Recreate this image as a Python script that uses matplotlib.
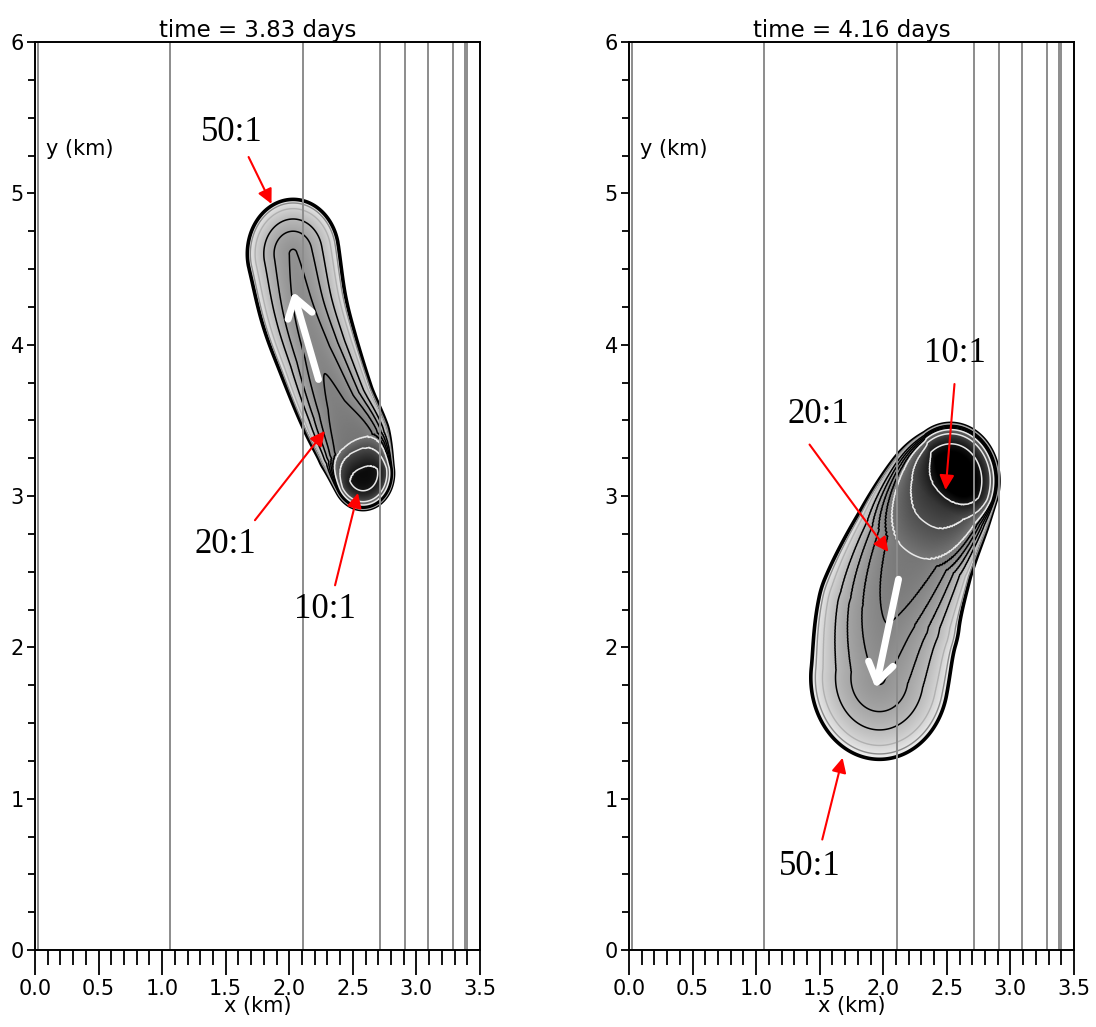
import numpy as np
import matplotlib
matplotlib.use("Agg")
import matplotlib.pyplot as plt
from matplotlib.colors import LogNorm
from matplotlib.ticker import MultipleLocator, FormatStrFormatter


# grey x-positions of the depth contours (km)
DEPTH_LINES_X = [0.02, 1.06, 2.11, 2.71, 2.91, 3.09, 3.29, 3.38, 3.40]

# contour levels (percent effluent) and their line colours
LEVELS = [2.0, 2.2, 2.5, 3.0, 3.5, 4.0, 4.5, 5.0, 6.7, 10.0]
LEVEL_COLORS = ["black", "#8a8a8a", "#b0b0b0", "black", "black", "black", "black",
                "#e8e8e8", "#e8e8e8", "#e8e8e8"]
LEVEL_WIDTHS = [2.6, 1.0, 1.0, 1.1, 1.1, 1.1, 1.1, 1.1, 1.1, 1.1]

# plume skeleton at 3.83 days: centre line, half width, peak value, edge sharpness
LEFT_PATH_X = [2.03, 2.11, 2.22, 2.37, 2.50, 2.58]
LEFT_PATH_Y = [4.60, 4.25, 3.95, 3.60, 3.36, 3.15]
LEFT_HALF_W = [0.36, 0.34, 0.32, 0.30, 0.29, 0.24]
LEFT_PEAK = [4.05, 4.25, 4.40, 4.65, 5.00, 11.0]
LEFT_EDGE = [1.5, 1.5, 1.6, 2.0, 3.0, 3.0]

# plume skeleton at 4.16 days
RIGHT_PATH_X = [1.97, 2.04, 2.22, 2.41, 2.53]
RIGHT_PATH_Y = [1.80, 2.20, 2.62, 2.95, 3.10]
RIGHT_HALF_W = [0.54, 0.56, 0.49, 0.44, 0.38]
RIGHT_PEAK = [4.05, 4.55, 5.00, 8.00, 14.0]
RIGHT_EDGE = [1.5, 1.6, 2.2, 2.5, 2.5]

TITLES = ["time = 3.83 days", "time = 4.16 days"]

# (label, text x, text y, arrow tail, arrow head)
LEFT_NOTES = [
    ("50:1", 1.55, 5.40, (1.68, 5.24), (1.86, 4.93)),
    ("20:1", 1.50, 2.68, (1.73, 2.84), (2.28, 3.43)),
    ("10:1", 2.28, 2.25, (2.36, 2.41), (2.54, 3.02)),
]
RIGHT_NOTES = [
    ("10:1", 2.56, 3.94, (2.56, 3.74), (2.49, 3.04)),
    ("20:1", 1.49, 3.54, (1.42, 3.34), (2.04, 2.63)),
    ("50:1", 1.42, 0.55, (1.52, 0.73), (1.68, 1.27)),
]
LEFT_FLOW = ((2.23, 3.77), (2.03, 4.35))
RIGHT_FLOW = ((2.12, 2.45), (1.94, 1.73))

BASE = LEVELS[0]


def smooth_path(px, py, extras, n=24):
    # Catmull-Rom curve through the skeleton points
    P = np.column_stack([px, py]).astype(float)
    pts = np.vstack([2 * P[0] - P[1], P, 2 * P[-1] - P[-2]])
    t = np.linspace(0, 1, n, endpoint=False)[:, None]
    curve = []
    for i in range(len(P) - 1):
        p0, p1, p2, p3 = pts[i], pts[i + 1], pts[i + 2], pts[i + 3]
        curve.append(0.5 * (2 * p1 + (p2 - p0) * t
                            + (2 * p0 - 5 * p1 + 4 * p2 - p3) * t ** 2
                            + (3 * p1 - p0 - 3 * p2 + p3) * t ** 3))
    curve.append(P[-1][None, :])
    curve = np.vstack(curve)
    idx = np.linspace(0, len(P) - 1, len(curve))
    vals = [np.interp(idx, np.arange(len(P)), v) for v in extras]
    return curve[:, 0], curve[:, 1], vals


def plume_field(X, Y, px, py, pw, pc, pp):
    cx, cy, (w_, c_, p_) = smooth_path(px, py, (pw, pc, pp))
    u_best = np.full(X.shape, np.inf)
    c_best = np.zeros(X.shape)
    p_best = np.ones(X.shape)
    for i in range(len(cx) - 1):
        dx = cx[i + 1] - cx[i]
        dy = cy[i + 1] - cy[i]
        s = ((X - cx[i]) * dx + (Y - cy[i]) * dy) / (dx * dx + dy * dy)
        s = np.clip(s, 0, 1)
        d = np.hypot(X - (cx[i] + s * dx), Y - (cy[i] + s * dy))
        u = d / (w_[i] + s * (w_[i + 1] - w_[i]))
        better = u < u_best
        u_best = np.where(better, u, u_best)
        c_best = np.where(better, c_[i] + s * (c_[i + 1] - c_[i]), c_best)
        p_best = np.where(better, p_[i] + s * (p_[i + 1] - p_[i]), p_best)
    return BASE + (c_best - BASE) * (1 - u_best ** p_best)


def draw_panel(ax, title, path, notes, flow):
    px, py, pw = path[0], path[1], path[2]
    pad = max(pw) + 0.15
    x0, x1 = min(px) - pad, max(px) + pad
    y0, y1 = min(py) - pad, max(py) + pad
    xs = np.arange(x0, x1, 0.004)
    ys = np.arange(y0, y1, 0.004)
    X, Y = np.meshgrid(xs, ys)
    F = plume_field(X, Y, *path)

    shade = np.ma.masked_less(F, BASE)
    ax.imshow(shade, extent=[xs[0], xs[-1], ys[0], ys[-1]], origin="lower", aspect="auto",
              cmap="gray_r", norm=LogNorm(vmin=1.8, vmax=12), interpolation="bilinear",
              zorder=1)
    ax.contour(X, Y, F, levels=LEVELS, colors=LEVEL_COLORS, linewidths=LEVEL_WIDTHS,
               zorder=2)

    for x in DEPTH_LINES_X:
        ax.axvline(x, color="#8c8c8c", lw=1.4, zorder=3)

    for label, tx, ty, tail, head in notes:
        ax.text(tx, ty, label, ha="center", va="center", fontsize=25,
                family="Liberation Serif", zorder=5)
        ax.annotate("", xy=head, xytext=tail,
                    arrowprops=dict(arrowstyle="-|>", color="red", lw=1.5,
                                    mutation_scale=22, shrinkA=0, shrinkB=0),
                    zorder=5)

    ax.annotate("", xy=flow[1], xytext=flow[0],
                arrowprops=dict(arrowstyle="->,head_length=0.45,head_width=0.3",
                                color="white", lw=5, mutation_scale=30,
                                shrinkA=0, shrinkB=0),
                zorder=4)

    ax.set_xlim(0, 3.5)
    ax.set_ylim(0, 6)
    ax.xaxis.set_major_locator(MultipleLocator(0.5))
    ax.xaxis.set_minor_locator(MultipleLocator(0.1))
    ax.xaxis.set_major_formatter(FormatStrFormatter("%.1f"))
    ax.yaxis.set_major_locator(MultipleLocator(1))
    ax.yaxis.set_minor_locator(MultipleLocator(0.25))
    ax.tick_params(axis="x", which="major", length=18, width=1.3, labelsize=15, pad=3)
    ax.tick_params(axis="x", which="minor", length=11, width=1.3)
    ax.tick_params(axis="y", which="major", length=6, width=1.3, labelsize=15, pad=2)
    ax.tick_params(axis="y", which="minor", length=5, width=1.3)
    for sp in ax.spines.values():
        sp.set_linewidth(1.4)
        sp.set_zorder(6)

    ax.set_xlabel("x (km)", fontsize=15, labelpad=-2)
    ax.text(0.09, 5.29, "y (km)", ha="left", va="center", fontsize=15, zorder=5)
    ax.set_title(title, fontsize=16.5, pad=3)


fig = plt.figure(figsize=(10.96, 10.27), dpi=100)
ax1 = fig.add_axes([35 / 1096, 77 / 1027, 445 / 1096, 908 / 1027])
ax2 = fig.add_axes([629 / 1096, 77 / 1027, 445 / 1096, 908 / 1027])

draw_panel(ax1, TITLES[0],
           (LEFT_PATH_X, LEFT_PATH_Y, LEFT_HALF_W, LEFT_PEAK, LEFT_EDGE),
           LEFT_NOTES, LEFT_FLOW)
draw_panel(ax2, TITLES[1],
           (RIGHT_PATH_X, RIGHT_PATH_Y, RIGHT_HALF_W, RIGHT_PEAK, RIGHT_EDGE),
           RIGHT_NOTES, RIGHT_FLOW)

fig.savefig("out.png", dpi=100)
